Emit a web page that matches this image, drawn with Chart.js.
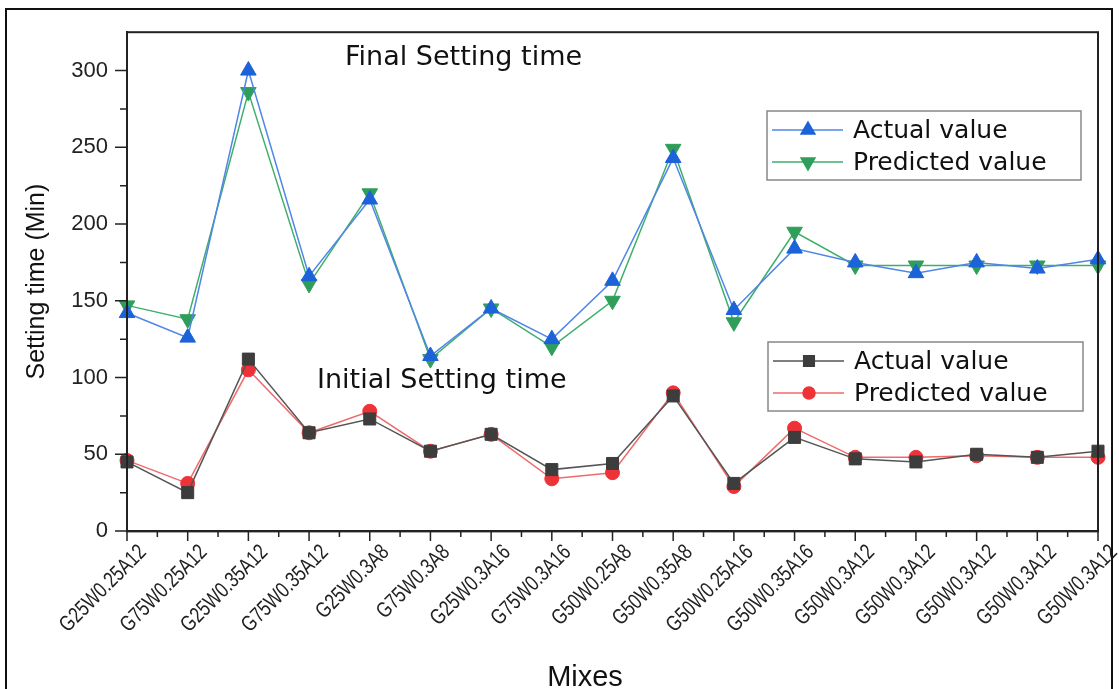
<!DOCTYPE html>
<html>
<head>
<meta charset="utf-8">
<script src="https://cdn.jsdelivr.net/npm/chart.js@4.4.1/dist/chart.umd.min.js"></script>
<style>
  html, body { margin: 0; padding: 0; background: #fff; }
  #wrap { position: relative; width: 1119px; height: 689px; }
</style>
</head>
<body>
<div id="wrap"><canvas id="chart" width="1119" height="689"></canvas></div>
<script>
// data
const mixes = [
  "G25W0.25A12", "G75W0.25A12", "G25W0.35A12", "G75W0.35A12", "G25W0.3A8",
  "G75W0.3A8", "G25W0.3A16", "G75W0.3A16", "G50W0.25A8", "G50W0.35A8",
  "G50W0.25A16", "G50W0.35A16", "G50W0.3A12", "G50W0.3A12", "G50W0.3A12",
  "G50W0.3A12", "G50W0.3A12"
];
const finalActual = [142, 126, 300, 166, 216, 114, 145, 125, 163, 243, 144, 184, 175, 168, 175, 171, 177];
const finalPredicted = [147, 138, 286, 161, 220, 112, 145, 120, 150, 249, 136, 195, 173, 173, 173, 173, 173];
const initialActual = [45, 25, 112, 64, 73, 52, 63, 40, 44, 88, 31, 61, 47, 45, 50, 48, 52];
const initialPredicted = [46, 31, 105, 64, 78, 52, 63, 34, 38, 90, 29, 67, 48, 48, 49, 48, 48];
const yTicks = [0, 50, 100, 150, 200, 250, 300];

const SANS = "'Liberation Sans', Arial, sans-serif";
const WIDE = "'DejaVu Sans', Verdana, sans-serif";

// frame, ticks, condensed x labels, notes and both legends
const decor = {
  id: "decor",
  afterDraw(chart) {
    const ctx = chart.ctx;
    const a = chart.chartArea;
    const xs = chart.scales.x, ys = chart.scales.y;
    ctx.save();

    // plot box
    ctx.strokeStyle = "#222";
    ctx.lineWidth = 2;
    ctx.strokeRect(a.left, a.top, a.right - a.left, a.bottom - a.top);

    // y ticks
    ctx.lineWidth = 1.5;
    ctx.beginPath();
    for (let v = 0; v <= 300; v += 25) {
      const y = ys.getPixelForValue(v);
      const len = v % 50 === 0 ? 12 : 7;
      ctx.moveTo(a.left - len, y);
      ctx.lineTo(a.left, y);
    }
    // x ticks
    for (let i = 0; i < mixes.length; i++) {
      const x = xs.getPixelForValue(i);
      ctx.moveTo(x, a.bottom);
      ctx.lineTo(x, a.bottom + 10);
      if (i < mixes.length - 1) {
        const xm = (x + xs.getPixelForValue(i + 1)) / 2;
        ctx.moveTo(xm, a.bottom);
        ctx.lineTo(xm, a.bottom + 6);
      }
    }
    ctx.stroke();

    // x tick labels, condensed like the original
    ctx.fillStyle = "#222";
    ctx.font = "22px " + SANS;
    ctx.textAlign = "right";
    ctx.textBaseline = "middle";
    for (let i = 0; i < mixes.length; i++) {
      const x = xs.getPixelForValue(i);
      ctx.save();
      ctx.translate(x + 16, a.bottom + 18);
      ctx.rotate(-Math.PI / 4);
      ctx.scale(0.78, 1);
      ctx.fillText(xs.getLabelForValue(i), 0, 0);
      ctx.restore();
    }

    // notes
    ctx.fillStyle = "#111";
    ctx.font = "27px " + WIDE;
    ctx.textBaseline = "alphabetic";
    ctx.textAlign = "left";
    ctx.fillText("Final Setting time", 345, 65);
    ctx.fillText("Initial Setting time", 317, 388);

    // x title
    ctx.font = "29px " + SANS;
    ctx.textAlign = "center";
    ctx.fillText("Mixes", 585, 686);

    // legends
    const ds = chart.data.datasets;
    const boxes = [
      { x: 767, y: 111, w: 314, h: 69, items: [0, 1] },
      { x: 768, y: 342, w: 315, h: 69, items: [2, 3] }
    ];
    boxes.forEach(b => {
      ctx.fillStyle = "#fff";
      ctx.fillRect(b.x, b.y, b.w, b.h);
      ctx.strokeStyle = "#888";
      ctx.lineWidth = 1.5;
      ctx.strokeRect(b.x, b.y, b.w, b.h);
      b.items.forEach((idx, k) => {
        const d = ds[idx];
        const cy = b.y + 19 + k * 32;
        ctx.strokeStyle = d.borderColor;
        ctx.lineWidth = 1.5;
        ctx.beginPath();
        ctx.moveTo(b.x + 5, cy);
        ctx.lineTo(b.x + 76, cy);
        ctx.stroke();
        ctx.fillStyle = d.pointBackgroundColor;
        ctx.strokeStyle = d.pointBackgroundColor;
        Chart.helpers.drawPoint(ctx, {
          pointStyle: d.pointStyle,
          radius: d.pointRadius - 1,
          rotation: d.pointRotation || 0,
          borderWidth: 1
        }, b.x + 41, cy);
        ctx.fillStyle = "#111";
        ctx.font = "25px " + WIDE;
        ctx.textAlign = "left";
        ctx.textBaseline = "middle";
        ctx.fillText(d.label, b.x + 86, cy + 1);
      });
    });

    // outer frame
    ctx.strokeStyle = "#111";
    ctx.lineWidth = 2;
    ctx.strokeRect(6, 9, 1106, 700);
    ctx.restore();
  }
};

function series(label, data, line, fill, style, radius, rot) {
  return {
    label: label,
    data: data,
    borderColor: line,
    borderWidth: 1.5,
    backgroundColor: fill,
    pointBackgroundColor: fill,
    pointBorderColor: fill,
    pointBorderWidth: 1,
    pointStyle: style,
    pointRadius: radius,
    pointRotation: rot,
    tension: 0,
    fill: false
  };
}

new Chart(document.getElementById("chart"), {
  type: "line",
  data: {
    labels: mixes,
    datasets: [
      series("Actual value", finalActual, "#4f86e8", "#1c62d8", "triangle", 9, 0),
      series("Predicted value", finalPredicted, "#3fae6a", "#2f9e5a", "triangle", 9, 180),
      series("Actual value", initialActual, "#555555", "#3d3d3d", "rect", 8.5, 0),
      series("Predicted value", initialPredicted, "#f06a6a", "#ee3338", "circle", 7, 0)
    ]
  },
  options: {
    responsive: false,
    devicePixelRatio: 1,
    animation: false,
    layout: { padding: { left: 0, right: 21, top: 29, bottom: 0 } },
    plugins: {
      legend: { display: false },
      tooltip: { enabled: false }
    },
    scales: {
      x: {
        type: "category",
        offset: false,
        afterFit(s) { s.height = 158; },
        grid: { drawOnChartArea: false, drawTicks: false },
        border: { display: true, color: "#555", width: 2.5 },
        ticks: { display: false, autoSkip: false }
      },
      y: {
        min: 0,
        max: 325,
        afterFit(s) { s.width = 127; },
        afterBuildTicks(s) { s.ticks = yTicks.map(v => ({ value: v })); },
        grid: { drawOnChartArea: false, drawTicks: false },
        border: { display: true, color: "#222", width: 2 },
        ticks: {
          padding: 19,
          color: "#222",
          font: { family: SANS, size: 22 }
        },
        title: {
          display: true,
          text: "Setting time (Min)",
          color: "#111",
          font: { family: SANS, size: 25 },
          padding: { top: 22, bottom: 0 }
        }
      }
    }
  },
  plugins: [decor]
});
</script>
</body>
</html>
